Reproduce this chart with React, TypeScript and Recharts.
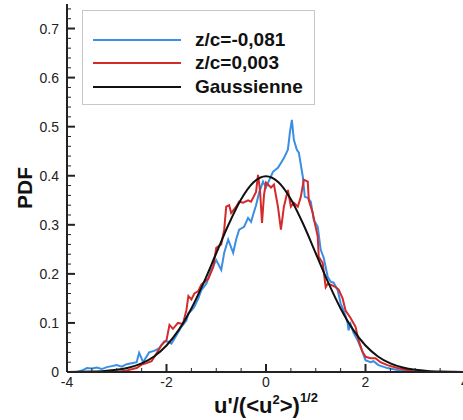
import React from "react";
import { LineChart, Line, XAxis, YAxis, Legend, Label } from "recharts";

// values
const blueX = [
  -3.8, -3.7, -3.6, -3.5, -3.4, -3.3, -3.2, -3.1, -3.0, -2.9, -2.8, -2.7, -2.6, -2.55, -2.47, -2.35, -2.25, -2.15, -2.05,
  -1.97, -1.9, -1.8, -1.7, -1.6, -1.56, -1.5, -1.44, -1.36, -1.3, -1.2, -1.1, -1.0, -0.9, -0.84, -0.76, -0.66, -0.6,
  -0.54, -0.44, -0.36, -0.3, -0.26, -0.2, -0.14, -0.06, 0, 0.06, 0.14, 0.24, 0.3, 0.36, 0.44, 0.48, 0.52, 0.56, 0.62,
  0.66, 0.74, 0.78, 0.84, 0.9, 0.96, 1.04, 1.1, 1.16, 1.24, 1.3, 1.36, 1.44, 1.5, 1.58, 1.64, 1.66, 1.7, 1.76, 1.84,
  1.94, 2.0, 2.1, 2.16, 2.26, 2.44, 2.64, 2.8, 3.0,
];
const blueY = [
  0, 0.003, 0.008, 0.007, 0.009, 0.006, 0.01, 0.012, 0.014, 0.011, 0.016, 0.018, 0.02, 0.039, 0.02, 0.04, 0.043, 0.048,
  0.062, 0.062, 0.058, 0.075, 0.092, 0.105, 0.12, 0.125, 0.133, 0.15, 0.167, 0.18, 0.208, 0.228, 0.208, 0.243, 0.27,
  0.243, 0.27, 0.29, 0.296, 0.314, 0.306, 0.32, 0.34, 0.365, 0.388, 0.376, 0.39, 0.408, 0.416, 0.426, 0.436, 0.453,
  0.488, 0.514, 0.473, 0.453, 0.447, 0.398, 0.357, 0.355, 0.347, 0.31, 0.296, 0.249, 0.233, 0.194, 0.184, 0.182, 0.167,
  0.14, 0.12, 0.1, 0.085, 0.098, 0.08, 0.065, 0.041, 0.024, 0.02, 0.022, 0.014, 0.008, 0.004, 0.002, 0,
];

const redX = [
  -3.0, -2.8, -2.6, -2.5, -2.4, -2.3, -2.2, -2.1, -2.0, -1.94, -1.87, -1.77, -1.67, -1.6, -1.56, -1.5, -1.44, -1.36,
  -1.3, -1.16, -1.06, -1.0, -0.9, -0.84, -0.8, -0.74, -0.7, -0.6, -0.54, -0.46, -0.36, -0.3, -0.2, -0.16, -0.12, -0.08,
  -0.04, 0, 0.1, 0.16, 0.24, 0.3, 0.36, 0.44, 0.5, 0.56, 0.64, 0.7, 0.76, 0.84, 0.86, 0.94, 0.98, 1.04, 1.06, 1.14, 1.2,
  1.24, 1.3, 1.4, 1.46, 1.54, 1.6, 1.7, 1.8, 1.86, 1.94, 2.0, 2.1, 2.2, 2.3, 2.44, 2.64, 2.84, 3.0,
];
const redY = [
  0, 0.003, 0.008, 0.015, 0.018, 0.022, 0.038, 0.055, 0.065, 0.096, 0.088, 0.1, 0.098, 0.126, 0.155, 0.148, 0.16, 0.165,
  0.178, 0.19, 0.214, 0.253, 0.26, 0.29, 0.337, 0.34, 0.324, 0.337, 0.347, 0.345, 0.35, 0.347, 0.367, 0.402, 0.37,
  0.304, 0.361, 0.386, 0.376, 0.382, 0.337, 0.29, 0.337, 0.371, 0.337, 0.345, 0.337, 0.357, 0.392, 0.388, 0.35, 0.324,
  0.304, 0.276, 0.235, 0.222, 0.173, 0.18, 0.178, 0.173, 0.168, 0.15, 0.125, 0.11, 0.092, 0.065, 0.041, 0.031, 0.028,
  0.028, 0.02, 0.014, 0.008, 0.004, 0,
];

const gaussX = [
  -4, -3.75, -3.5, -3.25, -3, -2.75, -2.5, -2.25, -2, -1.75, -1.5, -1.25, -1, -0.75, -0.5, -0.25, 0, 0.25, 0.5, 0.75, 1,
  1.25, 1.5, 1.75, 2, 2.25, 2.5, 2.75, 3, 3.25, 3.5, 3.75, 4,
];
const gaussY = [
  0.0001, 0.0004, 0.0009, 0.002, 0.0044, 0.0091, 0.0175, 0.0317, 0.054, 0.0863, 0.1295, 0.1826, 0.242, 0.3011, 0.3521,
  0.3867, 0.3989, 0.3867, 0.3521, 0.3011, 0.242, 0.1826, 0.1295, 0.0863, 0.054, 0.0317, 0.0175, 0.0091, 0.0044, 0.002,
  0.0009, 0.0004, 0.0001,
];

const seriesNames = ["z/c=-0,081", "z/c=0,003", "Gaussienne"];

const xTicks = [-4, -3.5, -3, -2.5, -2, -1.5, -1, -0.5, 0, 0.5, 1, 1.5, 2, 2.5, 3, 3.5, 4];
const xLabels = [-4, -2, 0, 2, 4];
const yTicks = [
  0, 0.02, 0.04, 0.06, 0.08, 0.1, 0.12, 0.14, 0.16, 0.18, 0.2, 0.22, 0.24, 0.26, 0.28, 0.3, 0.32, 0.34, 0.36, 0.38, 0.4,
  0.42, 0.44, 0.46, 0.48, 0.5, 0.52, 0.54, 0.56, 0.58, 0.6, 0.62, 0.64, 0.66, 0.68, 0.7, 0.72, 0.74,
];
const yLabels = ["0", "0.1", "0.2", "0.3", "0.4", "0.5", "0.6", "0.7"];

const blue = blueX.map((x, i) => ({ x, y: blueY[i] }));
const red = redX.map((x, i) => ({ x, y: redY[i] }));
const gauss = gaussX.map((x, i) => ({ x, y: gaussY[i] }));

const FONT = "'Liberation Sans', Arial, Helvetica, sans-serif";
const INK = "#222";

const XTick = (props: any) => {
  const { x, y, payload } = props;
  const v = payload.value;
  const major = xLabels.includes(v);
  const axisY = y - 6;
  return (
    <g>
      <line x1={x} x2={x} y1={axisY} y2={axisY - (major ? 8 : 4)} stroke={INK} strokeWidth={major ? 2 : 1} />
      {major && (
        <text x={x} y={y + 9} textAnchor="middle" fontSize={14} fontFamily={FONT} fill={INK}>
          {String(v)}
        </text>
      )}
    </g>
  );
};

const YTick = (props: any) => {
  const { x, y, payload } = props;
  const v = payload.value;
  const idx = Math.round(v * 10);
  const major = Math.abs(v * 10 - idx) < 1e-6;
  const axisX = x + 6;
  return (
    <g>
      <line x1={axisX} x2={axisX + (major ? 8 : 4)} y1={y} y2={y} stroke={INK} strokeWidth={major ? 2 : 1} />
      {major && (
        <text x={x - 2} y={y + 5} textAnchor="end" fontSize={14} fontFamily={FONT} fill={INK}>
          {yLabels[idx]}
        </text>
      )}
    </g>
  );
};

const XTitle = (props: any) => {
  const { viewBox } = props;
  const cx = viewBox.x + viewBox.width / 2;
  return (
    <text x={cx} y={viewBox.y + 41} textAnchor="middle" fontSize={22} fontWeight="bold" fontFamily={FONT} fill="#111">
      u'/(&lt;u
      <tspan dy={-9} fontSize={13}>2</tspan>
      <tspan dy={9}>&gt;)</tspan>
      <tspan dy={-11} fontSize={13}>1/2</tspan>
    </text>
  );
};

const YTitle = (props: any) => {
  const { viewBox } = props;
  const cy = viewBox.y + viewBox.height / 2;
  const cx = 32;
  return (
    <text
      x={cx}
      y={cy}
      transform={`rotate(-90 ${cx} ${cy})`}
      textAnchor="middle"
      fontSize={21}
      fontWeight="bold"
      fontFamily={FONT}
      fill="#111"
    >
      PDF
    </text>
  );
};

const LegendBox = (props: any) => {
  const items = [...(props.payload || [])].sort(
    (a: any, b: any) => seriesNames.indexOf(a.value) - seriesNames.indexOf(b.value)
  );
  return (
    <div
      style={{
        border: "1px solid #c8c8c8",
        background: "#fff",
        padding: "17px 0 6px 10px",
        boxSizing: "border-box",
        width: 233,
        height: 95,
        fontFamily: FONT,
      }}
    >
      {items.map((it: any) => (
        <div key={it.value} style={{ display: "flex", alignItems: "center", height: 23.5 }}>
          <div style={{ width: 88, height: 2, background: it.color, marginRight: 14 }} />
          <span style={{ fontSize: 19, fontWeight: "bold", color: "#111", whiteSpace: "nowrap" }}>{it.value}</span>
        </div>
      ))}
    </div>
  );
};

export default function App() {
  return (
    <div
      style={{
        position: "absolute",
        left: 0,
        top: 0,
        width: 463,
        height: 420,
        overflow: "hidden",
        background: "#fff",
      }}
    >
      <LineChart width={480} height={420} margin={{ top: 4, right: 15, left: 0, bottom: 0 }}>
        <XAxis
          dataKey="x"
          type="number"
          domain={[-4, 4]}
          ticks={xTicks}
          interval={0}
          height={48}
          tickLine={false}
          tickSize={0}
          tickMargin={6}
          axisLine={{ stroke: INK, strokeWidth: 2 }}
          tick={<XTick />}
        >
          <Label content={<XTitle />} />
        </XAxis>
        <XAxis
          xAxisId="top"
          orientation="top"
          dataKey="x"
          type="number"
          domain={[-4, 4]}
          height={0}
          tick={false}
          tickLine={false}
          axisLine={{ stroke: INK, strokeWidth: 2 }}
        />
        <YAxis
          dataKey="y"
          type="number"
          domain={[0, 0.75]}
          ticks={yTicks}
          interval={0}
          width={67}
          tickLine={false}
          tickSize={0}
          tickMargin={6}
          axisLine={{ stroke: INK, strokeWidth: 2 }}
          tick={<YTick />}
        >
          <Label content={<YTitle />} />
        </YAxis>
        <YAxis
          yAxisId="right"
          orientation="right"
          domain={[0, 0.75]}
          width={0}
          tick={false}
          tickLine={false}
          axisLine={{ stroke: INK, strokeWidth: 2 }}
        />
        <Legend
          layout="vertical"
          align="center"
          verticalAlign="middle"
          content={<LegendBox />}
          wrapperStyle={{ position: "absolute", left: 82, top: 10, width: 233, height: 95 }}
        />
        <Line
          data={blue}
          dataKey="y"
          name="z/c=-0,081"
          type="linear"
          stroke="#3a8ee6"
          strokeWidth={2}
          dot={false}
          isAnimationActive={false}
        />
        <Line
          data={red}
          dataKey="y"
          name="z/c=0,003"
          type="linear"
          stroke="#d42a2a"
          strokeWidth={2}
          dot={false}
          isAnimationActive={false}
        />
        <Line
          data={gauss}
          dataKey="y"
          name="Gaussienne"
          type="monotone"
          stroke="#111"
          strokeWidth={2}
          dot={false}
          isAnimationActive={false}
        />
      </LineChart>
    </div>
  );
}
